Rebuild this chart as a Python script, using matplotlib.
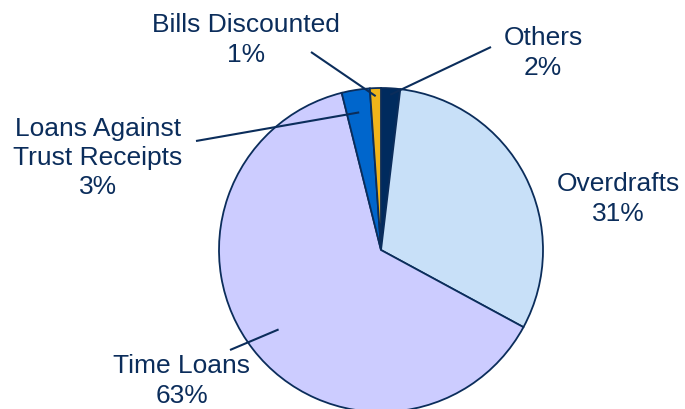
import matplotlib.pyplot as plt
import numpy as np

# data, clockwise from 12 o'clock
labels = ["Others", "Overdrafts", "Time Loans", "Loans Against\nTrust Receipts", "Bills Discounted"]
shares = [1.9, 31.0, 63.2, 2.8, 1.1]
colors = ["#002B5E", "#C8E0F8", "#CCCCFF", "#0066CC", "#F0B41A"]

# label layout in pixel coords (x, y from top), leader radius fraction (None = no leader)
label_pos = [(543, 53), (618, 199), (182, 381), (98, 158), (246, 40)]
leader_start = [(491, 47), None, (230, 350), (196, 141), (311, 52)]
leader_frac = [0.96, None, 0.80, 0.86, 0.95]

navy = "#0B2D5B"
W, H = 685, 409
center = (381, H - 250)
radius = 162

fig = plt.figure(figsize=(W / 100, H / 100), dpi=100)
ax = fig.add_axes([0, 0, 1, 1])

wedges, _ = ax.pie(shares, colors=colors, startangle=90, counterclock=False,
                   center=center, radius=radius,
                   wedgeprops=dict(edgecolor=navy, linewidth=1.3))

# pie() resets the limits, so set them afterwards
ax.set_xlim(0, W)
ax.set_ylim(0, H)
ax.set_aspect("equal")
ax.axis("off")

for w, lab, val, pos, start, frac in zip(wedges, labels, shares, label_pos, leader_start, leader_frac):
    ax.text(pos[0], H - pos[1], f"{lab}\n{round(val):d}%", ha="center", va="center",
            fontsize=19, color=navy, family="Liberation Sans", linespacing=1.28)
    if start is None:
        continue
    mid = np.deg2rad((w.theta1 + w.theta2) / 2)
    end = (center[0] + frac * radius * np.cos(mid), center[1] + frac * radius * np.sin(mid))
    ax.plot([start[0], end[0]], [H - start[1], end[1]], color=navy, linewidth=1.5,
            solid_capstyle="butt")

fig.savefig("out.png", dpi=100)
